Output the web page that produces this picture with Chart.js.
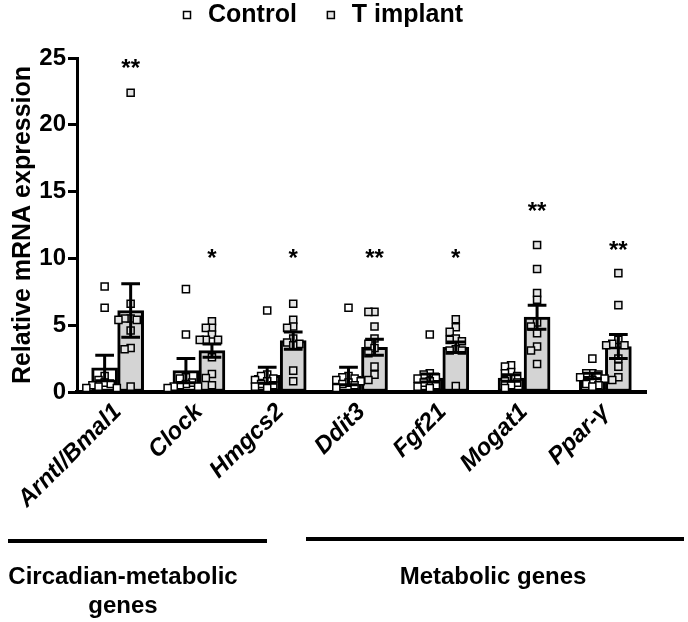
<!DOCTYPE html>
<html>
<head>
<meta charset="utf-8">
<script src="https://cdn.jsdelivr.net/npm/chart.js@4.4.1/dist/chart.umd.min.js"></script>
<style>
  html, body { margin: 0; padding: 0; background: #fff; }
  canvas { display: block; }
</style>
</head>
<body>
<canvas id="grafico" width="688" height="622"></canvas>
<script>
// DATOS
const genes = ['Arntl/Bmal1', 'Clock', 'Hmgcs2', 'Ddit3', 'Fgf21', 'Mogat1', 'Ppar-γ'];
const grupos = ['Control', 'T implant'];

const mediaControl = [1.8, 1.6, 1.25, 1.2, 1.05, 1.05, 1.2];
const semControl   = [0.95, 0.9, 0.6, 0.65, 0.3, 0.25, 0.2];
const mediaImplant = [6.1, 3.1, 3.85, 3.35, 3.35, 5.6, 3.4];
const semImplant   = [2.0, 0.5, 0.65, 0.6, 0.4, 0.9, 0.9];

const puntosControl = [
    [7.9, 6.3, 1.2, 0.9, 0.7, 0.6, 0.5, 0.4, 0.3, 0.3],
    [7.7, 4.3, 1.1, 1.0, 0.7, 0.6, 0.5, 0.4, 0.4, 0.3],
    [6.1, 1.3, 1.2, 1.0, 0.9, 0.8, 0.6, 0.5, 0.4, 0.3],
    [6.3, 1.2, 1.1, 1.0, 0.9, 0.8, 0.7, 0.6, 0.5, 0.3],
    [4.3, 1.4, 1.3, 1.1, 1.0, 0.8, 0.7, 0.5, 0.4, 0.3],
    [2.0, 1.9, 1.5, 1.4, 1.2, 1.0, 0.8, 0.7, 0.5, 0.3],
    [2.5, 1.4, 1.4, 1.3, 1.1, 1.0, 0.9, 0.6, 0.5, 0.4]
];
const puntosImplant = [
    [22.4, 6.6, 5.5, 5.4, 5.5, 5.4, 4.6, 3.3, 3.2, 0.4],
    [5.3, 4.8, 4.8, 4.3, 3.9, 3.9, 3.9, 2.6, 1.35, 1.05, 0.5],
    [6.6, 5.4, 4.9, 4.8, 4.0, 3.7, 3.6, 3.5, 1.6, 0.8],
    [6.0, 6.0, 4.9, 4.0, 3.6, 3.3, 2.9, 1.9, 1.3, 0.9],
    [5.45, 4.85, 4.5, 4.0, 3.9, 3.8, 3.2, 3.1, 3.1, 0.45],
    [11.0, 9.2, 7.4, 6.9, 5.2, 4.9, 4.4, 3.4, 3.1, 2.1],
    [8.9, 6.5, 3.9, 3.6, 3.5, 3.5, 2.5, 1.9, 1.1, 0.9]
];

const nivelAsterisco = [24.6, 10.4, 10.4, 10.4, 10.4, 13.9, 11.0];
const textoAsterisco = ['**', '*', '*', '**', '*', '**', '**'];

const ejeY = { min: 0, max: 25, paso: 5 };
const tituloY = 'Relative mRNA expression';
const bloques = [
    { lineas: ['Circadian-metabolic', 'genes'] },
    { lineas: ['Metabolic genes'] }
];

// ESTILO
const FUENTE = '"Liberation Sans", Arial, sans-serif';
const GRIS = '#d4d4d4';
const GRIS_PUNTO = '#e4e4e4';
const DESPLAZ = 0.16;   // mitad del ancho de barra, en unidades de categoria

// dispersion simple para que los puntos no se tapen
function dispersar(valores, centro){
    let paso = 0.075;
    let orden = [0, -1, 1, -2, 2, -3, 3];
    let puestos = [];
    [...valores].sort((a, b) => b - a).forEach(v => {
        for (let k of orden) {
            let x = centro + k * paso;
            let choca = puestos.some(p => Math.abs(p.x - x) < paso * 0.9 && Math.abs(p.y - v) < 0.45);
            if (!choca) { puestos.push({ x: x, y: v }); break; }
        }
    });
    return puestos;
}

let barrasControl = mediaControl.map((v, i) => ({ x: i - DESPLAZ, y: v }));
let barrasImplant = mediaImplant.map((v, i) => ({ x: i + DESPLAZ, y: v }));

let datosControl = [];
let datosImplant = [];
genes.forEach((g, i) => {
    datosControl.push(...dispersar(puntosControl[i], i - DESPLAZ));
    datosImplant.push(...dispersar(puntosImplant[i], i + DESPLAZ));
});

// ERROR BARS + ASTERISCOS
const pluginErrores = {
    id: 'errores',
    afterDatasetsDraw(chart){
        let ctx = chart.ctx;
        let y = chart.scales.y;
        [[0, mediaControl, semControl], [1, mediaImplant, semImplant]].forEach(([d, media, sem]) => {
            let meta = chart.getDatasetMeta(d);
            meta.data.forEach((bar, i) => {
                let x = bar.x;
                let cap = bar.width * 0.36;
                let yAlto = y.getPixelForValue(media[i] + sem[i]);
                let yBajo = y.getPixelForValue(Math.max(0, media[i] - sem[i]));
                ctx.save();
                ctx.strokeStyle = '#000';
                ctx.lineWidth = 3;
                ctx.beginPath();
                ctx.moveTo(x, yBajo); ctx.lineTo(x, yAlto);
                ctx.moveTo(x - cap, yAlto); ctx.lineTo(x + cap, yAlto);
                ctx.moveTo(x - cap, yBajo); ctx.lineTo(x + cap, yBajo);
                ctx.stroke();
                ctx.restore();
            });
        });
        let meta = chart.getDatasetMeta(1);
        ctx.save();
        ctx.fillStyle = '#000';
        ctx.font = 'bold 24px ' + FUENTE;
        ctx.textAlign = 'center';
        ctx.textBaseline = 'middle';
        meta.data.forEach((bar, i) => {
            ctx.fillText(textoAsterisco[i], bar.x, y.getPixelForValue(nivelAsterisco[i]) + 6);
        });
        ctx.restore();
    }
};

// LEYENDA Y BLOQUES DE GENES
const pluginAnotaciones = {
    id: 'anotaciones',
    afterDraw(chart){
        let ctx = chart.ctx;
        ctx.save();
        ctx.fillStyle = '#000';
        ctx.textBaseline = 'middle';

        // leyenda
        ctx.font = 'bold 25px ' + FUENTE;
        let rellenos = ['#fff', GRIS_PUNTO];
        let x = 187;
        let yl = 15;
        grupos.forEach((t, i) => {
            ctx.fillStyle = rellenos[i];
            ctx.strokeStyle = '#000';
            ctx.lineWidth = 1.5;
            ctx.fillRect(x - 3.5, yl - 3.5, 7, 7);
            ctx.strokeRect(x - 3.5, yl - 3.5, 7, 7);
            ctx.fillStyle = '#000';
            ctx.textAlign = 'left';
            ctx.fillText(t, x + 21, yl);
            x += 21 + ctx.measureText(t).width + 34;
        });

        // lineas de bloques
        ctx.strokeStyle = '#000';
        ctx.lineWidth = 4;
        ctx.beginPath();
        ctx.moveTo(8, 541); ctx.lineTo(267, 541);
        ctx.moveTo(306, 539); ctx.lineTo(684, 539);
        ctx.stroke();

        ctx.font = 'bold 24px ' + FUENTE;
        ctx.textAlign = 'center';
        let centros = [123, 493];
        bloques.forEach((b, i) => {
            b.lineas.forEach((l, j) => {
                ctx.fillText(l, centros[i], 577 + j * 29);
            });
        });
        ctx.restore();
    }
};

new Chart(document.getElementById('grafico'), {
    type: 'bar',
    data: {
        datasets: [
            {
                label: grupos[0],
                data: barrasControl,
                backgroundColor: '#fff',
                borderColor: '#000',
                borderWidth: 3,
                borderSkipped: false,
                grouped: false,
                barThickness: 26,
                order: 3
            },
            {
                label: grupos[1],
                data: barrasImplant,
                backgroundColor: GRIS,
                borderColor: '#000',
                borderWidth: 3,
                borderSkipped: false,
                grouped: false,
                barThickness: 26,
                order: 3
            },
            {
                type: 'scatter',
                label: grupos[0] + ' pts',
                data: datosControl,
                grouped: false,
                pointStyle: 'rect',
                pointRadius: 5,
                pointBackgroundColor: '#fff',
                pointBorderColor: '#000',
                pointBorderWidth: 1.5,
                order: 1
            },
            {
                type: 'scatter',
                label: grupos[1] + ' pts',
                data: datosImplant,
                grouped: false,
                pointStyle: 'rect',
                pointRadius: 5,
                pointBackgroundColor: GRIS_PUNTO,
                pointBorderColor: '#000',
                pointBorderWidth: 1.5,
                order: 1
            }
        ]
    },
    options: {
        responsive: false,
        animation: false,
        layout: { padding: { top: 58, right: 42, left: 0, bottom: 0 } },
        plugins: {
            legend: { display: false },
            tooltip: { enabled: false }
        },
        scales: {
            x: {
                type: 'linear',
                offset: false,
                min: -0.5,
                max: genes.length - 0.5,
                afterBuildTicks: s => { s.ticks = genes.map((g, i) => ({ value: i })); },
                grid: { display: false, drawTicks: false },
                border: { display: true, color: '#000', width: 4 },
                ticks: {
                    autoSkip: false,
                    minRotation: 45,
                    maxRotation: 45,
                    padding: 6,
                    color: '#000',
                    callback: v => genes[v],
                    font: { family: FUENTE, size: 24, weight: 'bold', style: 'italic' }
                },
                afterFit: s => { s.height = 230; }
            },
            y: {
                min: ejeY.min,
                max: ejeY.max,
                ticks: {
                    stepSize: ejeY.paso,
                    padding: 2,
                    color: '#000',
                    font: { family: FUENTE, size: 24, weight: 'bold' }
                },
                grid: { drawOnChartArea: false, drawTicks: true, tickLength: 9, tickWidth: 3, tickColor: '#000' },
                border: { display: true, color: '#000', width: 3 },
                title: {
                    display: true,
                    text: tituloY,
                    color: '#000',
                    padding: { top: 8, bottom: 0 },
                    font: { family: FUENTE, size: 25, weight: 'bold' }
                },
                afterFit: s => { s.width = 77; }
            }
        }
    },
    plugins: [pluginErrores, pluginAnotaciones]
});
</script>
</body>
</html>
